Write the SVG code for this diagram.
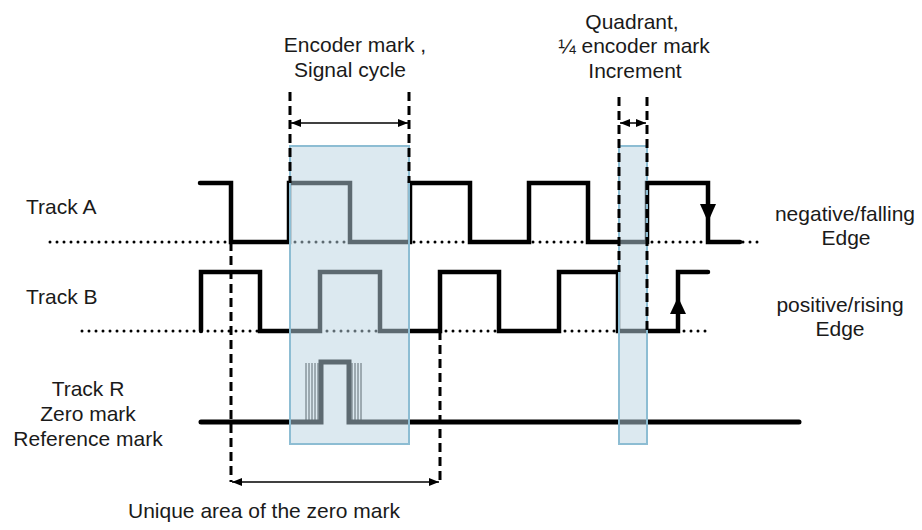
<svg xmlns="http://www.w3.org/2000/svg" width="922" height="530" viewBox="0 0 922 530">
<style>
text{font-family:"Liberation Sans",Arial,sans-serif;font-size:21px;fill:#1a1a1a}
.c{text-anchor:middle}
.wave{fill:none;stroke:#000;stroke-width:4.5;stroke-linecap:round;stroke-linejoin:miter}
.r{stroke-width:5}
.dot{fill:none;stroke:#000;stroke-width:3;stroke-linecap:round;stroke-dasharray:0 7}
.dash{fill:none;stroke:#000;stroke-width:3;stroke-dasharray:9 5}
.dim{fill:none;stroke:#000;stroke-width:1.5;marker-start:url(#ah);marker-end:url(#ah)}
.hatch{stroke:#000;stroke-width:1}
.box{fill:#b9d3e2;fill-opacity:0.5;stroke:#8dbdd3;stroke-width:2}
</style>
<defs>
<marker id="ah" markerUnits="userSpaceOnUse" markerWidth="10" markerHeight="8" refX="10" refY="4" orient="auto-start-reverse">
<path d="M0,0 L10,4 L0,8 z" fill="#000"/>
</marker>
</defs>
<rect width="922" height="530" fill="#fff"/>
<g id="labels">
<text x="26" y="214">Track A</text>
<text x="26" y="304">Track B</text>
<text class="c" x="88" y="396">Track R</text>
<text class="c" x="88" y="421">Zero mark</text>
<text class="c" x="88" y="446">Reference mark</text>
<text class="c" x="355" y="52">Encoder mark ,</text>
<text class="c" x="350" y="77">Signal cycle</text>
<text class="c" x="632" y="29">Quadrant,</text>
<text class="c" x="634" y="53">¼ encoder mark</text>
<text class="c" x="635" y="78">Increment</text>
<text class="c" x="845" y="221">negative/falling</text>
<text class="c" x="846" y="245">Edge</text>
<text class="c" x="840" y="312">positive/rising</text>
<text class="c" x="840" y="336">Edge</text>
<text class="c" x="264" y="518">Unique area of the zero mark</text>
</g>
<g id="baselines">
<path class="dot" d="M50,242 H763"/>
<path class="dot" d="M82,331 H707"/>
</g>
<g id="trackA">
<path class="wave" d="M200,183 H231 V242 H289 V183 H350 V242 H410 V183 H470 V242 H529 V183 H588 V242 H647 V183 H708 V242 H740"/>
</g>
<g id="trackB">
<path class="wave" d="M201,331 V272 H260 V331 H320 V272 H380 V331 H440 V272 H499 V331 H559 V272 H618 V331 H678 V272 H708"/>
</g>
<g id="trackR">
<path class="wave r" d="M201,422 H321 V362 H349 V422 H799"/>
<g class="hatch">
<path d="M306,363 V420 M309,363 V420 M312,363 V420 M315,363 V420 M318,363 V420"/>
<path d="M352,363 V420 M355,363 V420 M358,363 V420 M361,363 V420"/>
</g>
</g>
<g id="highlights">
<rect class="box" x="290" y="146" width="119" height="298"/>
<rect class="box" x="619" y="146" width="28" height="298"/>
</g>
<g id="connectors">
<path class="dash" d="M290,92 V183"/>
<path class="dash" d="M409,92 V183"/>
<path class="dash" d="M619,97 V272"/>
<path class="dash" d="M647,97 V331"/>
<path class="dash" d="M231,242 V482"/>
<path class="dash" d="M440,331 V482"/>
<path class="dim" d="M291,123 H408"/>
<path class="dim" d="M620,123 H646"/>
<path class="dim" d="M232,482 H439"/>
<polygon points="700,204 716,204 708,222" fill="#000"/>
<polygon points="670,314 686,314 678,297" fill="#000"/>
</g>
</svg>
